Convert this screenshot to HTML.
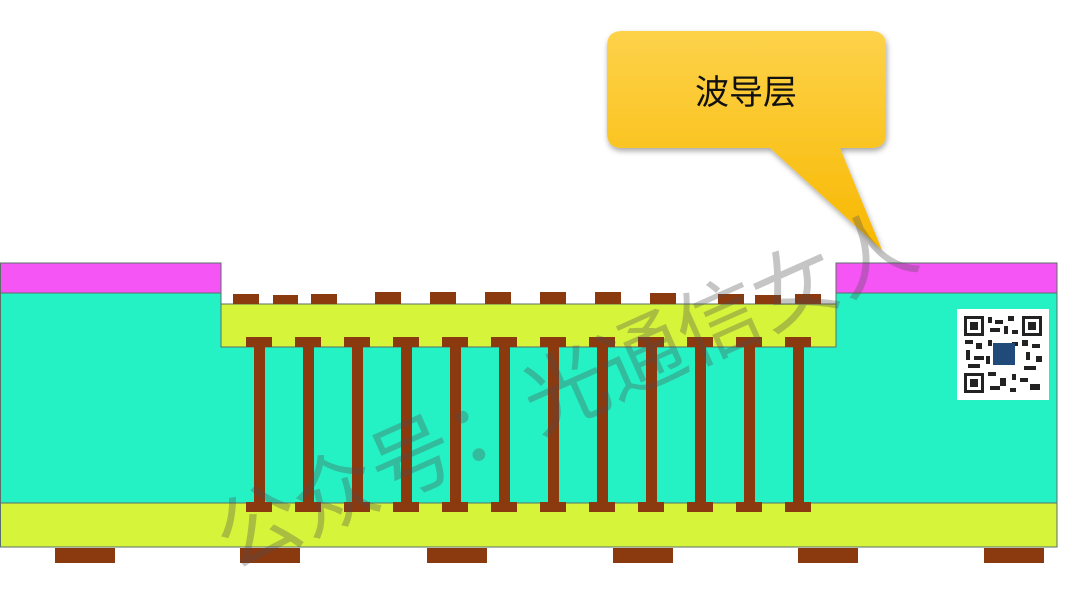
<!DOCTYPE html>
<html><head><meta charset="utf-8"><style>html,body{margin:0;padding:0;background:#fff;width:1080px;height:608px;overflow:hidden}</style></head>
<body>
<svg width="1080" height="608" viewBox="0 0 1080 608" xmlns="http://www.w3.org/2000/svg">
<defs>
<linearGradient id="cg" x1="0" y1="0" x2="0" y2="1"><stop offset="0" stop-color="#fdd24a"/><stop offset="1" stop-color="#f8b800"/></linearGradient>
<filter id="sh" x="-10%" y="-10%" width="130%" height="140%"><feDropShadow dx="1" dy="3" stdDeviation="3" flood-color="#000" flood-opacity="0.35"/></filter>
</defs>
<g stroke="#5a6f6a" stroke-width="1">
<rect x="0.5" y="263" width="220.5" height="30" fill="#f655f6"/>
<rect x="836" y="263" width="221" height="30" fill="#f655f6"/>
<path d="M0.5 293 H221 V347 H836 V293 H1057 V503 H0.5 Z" fill="#25f2c4"/>
<rect x="221" y="304" width="615" height="43" fill="#d6f53a"/>
<rect x="0.5" y="503" width="1056.5" height="44" fill="#d6f53a"/>
</g>
<g fill="#8b3a10">
<rect x="233" y="294" width="26" height="10"/><rect x="273" y="295" width="25" height="9"/><rect x="311" y="294" width="26" height="10"/>
<rect x="375" y="292" width="26" height="12"/><rect x="430" y="292" width="26" height="12"/><rect x="485" y="292" width="26" height="12"/>
<rect x="540" y="292" width="26" height="12"/><rect x="595" y="292" width="26" height="12"/><rect x="650" y="293" width="26" height="11"/>
<rect x="718" y="294" width="26" height="10"/><rect x="755" y="295" width="26" height="9"/><rect x="795" y="294" width="26" height="10"/>
</g>
<g fill="#8b3a10">
<g><rect x="246" y="337" width="26" height="10"/><rect x="254" y="347" width="11" height="156"/><rect x="246" y="502" width="26" height="10"/></g>
<g transform="translate(49,0)"><rect x="246" y="337" width="26" height="10"/><rect x="254" y="347" width="11" height="156"/><rect x="246" y="502" width="26" height="10"/></g>
<g transform="translate(98,0)"><rect x="246" y="337" width="26" height="10"/><rect x="254" y="347" width="11" height="156"/><rect x="246" y="502" width="26" height="10"/></g>
<g transform="translate(147,0)"><rect x="246" y="337" width="26" height="10"/><rect x="254" y="347" width="11" height="156"/><rect x="246" y="502" width="26" height="10"/></g>
<g transform="translate(196,0)"><rect x="246" y="337" width="26" height="10"/><rect x="254" y="347" width="11" height="156"/><rect x="246" y="502" width="26" height="10"/></g>
<g transform="translate(245,0)"><rect x="246" y="337" width="26" height="10"/><rect x="254" y="347" width="11" height="156"/><rect x="246" y="502" width="26" height="10"/></g>
<g transform="translate(294,0)"><rect x="246" y="337" width="26" height="10"/><rect x="254" y="347" width="11" height="156"/><rect x="246" y="502" width="26" height="10"/></g>
<g transform="translate(343,0)"><rect x="246" y="337" width="26" height="10"/><rect x="254" y="347" width="11" height="156"/><rect x="246" y="502" width="26" height="10"/></g>
<g transform="translate(392,0)"><rect x="246" y="337" width="26" height="10"/><rect x="254" y="347" width="11" height="156"/><rect x="246" y="502" width="26" height="10"/></g>
<g transform="translate(441,0)"><rect x="246" y="337" width="26" height="10"/><rect x="254" y="347" width="11" height="156"/><rect x="246" y="502" width="26" height="10"/></g>
<g transform="translate(490,0)"><rect x="246" y="337" width="26" height="10"/><rect x="254" y="347" width="11" height="156"/><rect x="246" y="502" width="26" height="10"/></g>
<g transform="translate(539,0)"><rect x="246" y="337" width="26" height="10"/><rect x="254" y="347" width="11" height="156"/><rect x="246" y="502" width="26" height="10"/></g>
</g>
<g fill="#8b3a10">
<rect x="55" y="548" width="60" height="15"/><rect x="240" y="548" width="60" height="15"/><rect x="427" y="548" width="60" height="15"/>
<rect x="613" y="548" width="60" height="15"/><rect x="798" y="548" width="60" height="15"/><rect x="984" y="548" width="60" height="15"/>
</g>
<rect x="957" y="309" width="92" height="91" fill="#fff"/>
<g fill="#222">
<rect x="964" y="316" width="20" height="20"/><rect x="1022" y="316" width="20" height="20"/><rect x="964" y="373" width="20" height="20"/>
</g>
<g fill="#fff"><rect x="967" y="319" width="14" height="14"/><rect x="1025" y="319" width="14" height="14"/><rect x="967" y="376" width="14" height="14"/></g>
<g fill="#222"><rect x="970" y="322" width="8" height="8"/><rect x="1028" y="322" width="8" height="8"/><rect x="970" y="379" width="8" height="8"/>
<rect x="988" y="317" width="4" height="6"/><rect x="995" y="320" width="8" height="4"/><rect x="1008" y="316" width="6" height="5"/><rect x="990" y="328" width="10" height="4"/><rect x="1004" y="326" width="4" height="8"/><rect x="1012" y="330" width="6" height="4"/>
<rect x="965" y="340" width="8" height="4"/><rect x="976" y="343" width="6" height="6"/><rect x="966" y="350" width="4" height="10"/><rect x="974" y="356" width="10" height="4"/><rect x="968" y="364" width="12" height="4"/>
<rect x="1022" y="340" width="6" height="6"/><rect x="1032" y="344" width="8" height="4"/><rect x="1026" y="352" width="4" height="8"/><rect x="1036" y="356" width="6" height="6"/><rect x="1024" y="366" width="12" height="4"/>
<rect x="988" y="372" width="8" height="4"/><rect x="1000" y="378" width="6" height="8"/><rect x="1012" y="374" width="4" height="6"/><rect x="990" y="386" width="10" height="4"/><rect x="1020" y="378" width="8" height="4"/><rect x="1030" y="384" width="10" height="6"/><rect x="1010" y="388" width="6" height="4"/>
<rect x="988" y="340" width="4" height="6"/><rect x="1012" y="342" width="6" height="4"/><rect x="986" y="356" width="4" height="8"/>
</g>
<rect x="993" y="343" width="22" height="22" fill="#1f4a7a"/>
<g filter="url(#sh)">
<path d="M622 31 H871 Q886 31 886 46 V133 Q886 148 871 148 H840 L882 250 L770 148 H622 Q607 148 607 133 V46 Q607 31 622 31 Z" fill="url(#cg)"/>
</g>
<text x="746" y="104" font-family="'Liberation Sans','Noto Sans CJK SC',sans-serif" font-size="34" text-anchor="middle" fill="#111">波导层</text>
<text x="565" y="420" transform="rotate(-24 565 390)" font-family="'Liberation Sans','Noto Sans CJK SC',sans-serif" font-size="84" text-anchor="middle" fill="rgba(80,80,80,0.33)">公众号：光通信女人</text>
</svg>
</body></html>
